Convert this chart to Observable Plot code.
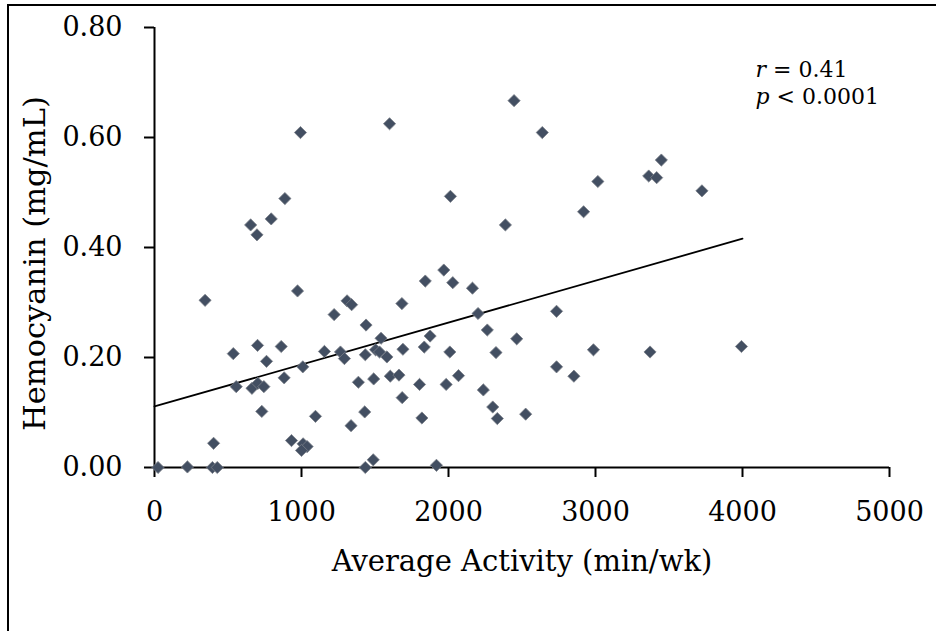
<!DOCTYPE html>
<html><head><meta charset="utf-8">
<script src="https://cdn.jsdelivr.net/npm/d3@7"></script>
<script src="https://cdn.jsdelivr.net/npm/@observablehq/plot@0.6"></script>
<style>
html,body{margin:0;padding:0;background:#fff;}
#wrap{position:relative;width:936px;height:631px;overflow:hidden;}
#frame{position:absolute;left:7px;top:4px;width:940px;height:640px;border-top:2px solid #000;border-left:2px solid #000;pointer-events:none;}
</style></head><body>
<div id="wrap"><div id="frame"></div></div>
<script>
const activity = [993,1599,2446,2638,887,654,794,697,2013,2387,1968,1842,2029,344,973,2163,1310,1341,1683,1222,2201,1439,2264,2464,1875,1541,701,862,536,1156,1265,1292,1434,1504,1531,1581,1690,1835,2009,2323,762,1009,556,663,703,744,882,1387,1491,1604,1663,1803,1984,2068,2237,1685,2301,2332,2525,730,1095,1430,1819,1337,402,932,1011,1038,1000,1488,1434,1918,24,224,394,427,3448,3362,3416,3016,3724,2919,2735,2986,3371,3993,2735,2853];
const hemocyanin = [0.609,0.625,0.667,0.609,0.489,0.441,0.452,0.423,0.493,0.441,0.359,0.339,0.336,0.304,0.321,0.326,0.303,0.296,0.298,0.278,0.280,0.259,0.250,0.234,0.239,0.235,0.222,0.220,0.207,0.211,0.210,0.198,0.205,0.214,0.210,0.201,0.215,0.219,0.210,0.209,0.193,0.183,0.147,0.144,0.153,0.147,0.163,0.155,0.161,0.166,0.168,0.151,0.151,0.167,0.141,0.127,0.110,0.089,0.097,0.102,0.093,0.101,0.090,0.076,0.044,0.049,0.043,0.038,0.031,0.014,0.000,0.004,0.000,0.001,0.000,0.000,0.559,0.530,0.527,0.520,0.503,0.465,0.284,0.214,0.210,0.220,0.183,0.166];
const trendActivity = [0, 4000];
const trendHemocyanin = [0.111, 0.416];
const xTicks = [0, 1000, 2000, 3000, 4000, 5000];
const yTicks = [0, 0.2, 0.4, 0.6, 0.8];
const statText = "r = 0.41\np < 0.0001";
const xLabel = "Average Activity (min/wk)";
const yLabel = "Hemocyanin (mg/mL)";

const points = activity.map((a, i) => ({activity: a, hemocyanin: hemocyanin[i]}));
const trend = trendActivity.map((a, i) => ({activity: a, hemocyanin: trendHemocyanin[i]}));

const chart = Plot.plot({
  width: 936, height: 631,
  marginLeft: 154, marginRight: 47, marginTop: 27, marginBottom: 164,
  style: {fontFamily: "'DejaVu Serif', serif", fontSize: "27px", color: "#000", background: "transparent"},
  x: {domain: [0, 5000]},
  y: {domain: [0, 0.8]},
  marks: [
    Plot.axisX({ticks: xTicks, tickSize: 10, tickPadding: 24, tickFormat: d => String(d), strokeWidth: 2, label: null}),
    Plot.axisY({ticks: yTicks, tickSize: 10, tickPadding: 22, tickFormat: d3.format(".2f"), strokeWidth: 2, label: null}),
    Plot.ruleY([0], {strokeWidth: 2}),
    Plot.ruleX([0], {strokeWidth: 2}),
    Plot.line(trend, {x: "activity", y: "hemocyanin", stroke: "#000", strokeWidth: 1.8}),
    Plot.dot(points, {x: "activity", y: "hemocyanin", symbol: "diamond2", r: 5.5, fill: "#434f62", stroke: "#7a7f88", strokeWidth: 0.8}),
    Plot.text([xLabel], {frameAnchor: "bottom", textAnchor: "middle", lineAnchor: "middle", dy: 94, text: d => d, fontSize: 29}),
    Plot.text([yLabel], {frameAnchor: "left", textAnchor: "middle", lineAnchor: "middle", rotate: -90, dx: -119, dy: 16, text: d => d, fontSize: 30.5}),
    Plot.text([statText], {frameAnchor: "top-left", textAnchor: "start", lineAnchor: "top", dx: 601, dy: 30, lineHeight: 1.23, text: d => d, fontSize: 22})
  ]
});

const svgns = "http://www.w3.org/2000/svg";
chart.querySelectorAll("tspan, text").forEach(t => {
  if (t.children.length) return;
  const s = t.textContent;
  if (/^[rp] [=<]/.test(s)) {
    t.textContent = "";
    const it = document.createElementNS(svgns, "tspan");
    it.setAttribute("font-style", "italic");
    it.textContent = s[0];
    t.appendChild(it);
    t.appendChild(document.createTextNode(s.slice(1)));
  }
});
document.getElementById("wrap").prepend(chart);
</script>
</body></html>
